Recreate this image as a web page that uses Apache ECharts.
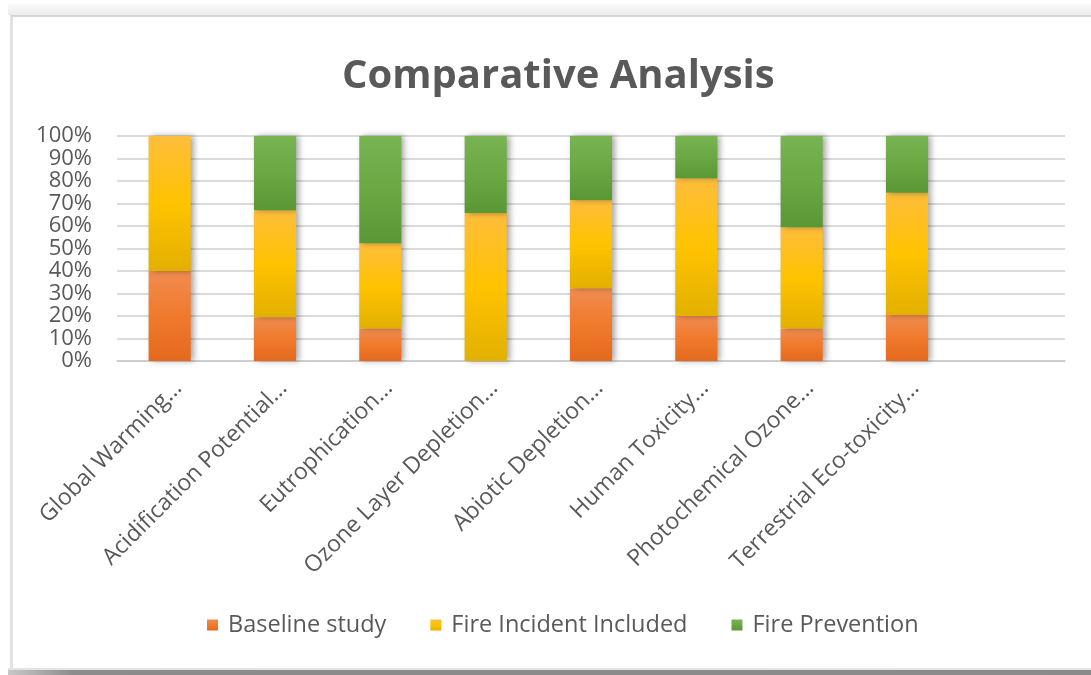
<!DOCTYPE html>
<html>
<head>
<meta charset="UTF-8">
<script src="https://cdn.jsdelivr.net/npm/echarts@6/dist/echarts.min.js"></script>
<style>
  html, body { margin: 0; padding: 0; background: #fff; }
  #wrap { position: relative; width: 1091px; height: 675px; overflow: hidden; }
  .band-top { position: absolute; left: 8px; right: 0; top: 4px; height: 11px;
    background: linear-gradient(#fafafa, #ececec); }
  .frame { position: absolute; left: 10px; right: -4px; top: 15px; height: 652px;
    border-left: 3px solid #e2e2e2; border-top: 2px solid #d6d6d6; background: #fff; }
  .band-bot { position: absolute; left: 8px; right: 0; top: 668px; height: 2px; background: #e4e4e4; }
  .band-dark { position: absolute; left: 8px; right: 0; top: 670px; height: 5px;
    background: linear-gradient(to right, #c8c8c8, #8c8c8c 6%, #8a8a8a); }
  #main { position: absolute; left: 0; top: 0; width: 1091px; height: 675px; }
</style>
</head>
<body>
<div id="wrap">
  <div class="band-top"></div>
  <div class="frame"></div>
  <div class="band-bot"></div>
  <div class="band-dark"></div>
  <div id="main"></div>
</div>
<script>
  // categories (last slot is an empty one, as in the original sheet)
  var categories = ['Global Warming...', 'Acidification Potential...', 'Eutrophication...',
    'Ozone Layer Depletion...', 'Abiotic Depletion...', 'Human Toxicity...',
    'Photochemical Ozone...', 'Terrestrial Eco-toxicity...', ''];
  // shares in %
  var baseline   = [40, 19.5, 14.5, 0, 32.3, 20, 14.5, 20.5];
  var fireIncid  = [60, 47.5, 37.8, 65.8, 39.3, 61.2, 45, 54.3];
  var firePrev   = [0, 33, 47.7, 34.2, 28.4, 18.8, 40.5, 25.2];
  var yTicks = [0, 10, 20, 30, 40, 50, 60, 70, 80, 90, 100];

  var font = 'Open Sans';
  var textColor = '#595959';

  function grad(top, mid, bottom) {
    return new echarts.graphic.LinearGradient(0, 0, 0, 1, [
      { offset: 0, color: top },
      { offset: 0.5, color: mid },
      { offset: 1, color: bottom }
    ]);
  }

  function barSeries(name, data, legendColor, fill) {
    return {
      name: name,
      type: 'bar',
      stack: 'total',
      barWidth: '40%',
      data: data,
      color: legendColor,
      itemStyle: {
        color: fill,
        shadowColor: 'rgba(0,0,0,0.35)',
        shadowBlur: 6,
        shadowOffsetX: 3,
        shadowOffsetY: 0
      }
    };
  }

  var myChart = echarts.init(document.getElementById('main'), null, { renderer: 'canvas' });

  myChart.setOption({
    backgroundColor: 'transparent',
    animation: false,
    title: {
      text: 'Comparative Analysis',
      left: 337,
      top: 52,
      textStyle: { fontFamily: font, fontSize: 40, fontWeight: 'bold', color: textColor }
    },
    legend: {
      bottom: 33,
      left: 202,
      icon: 'rect',
      itemWidth: 11,
      itemHeight: 11,
      itemGap: 44,
      textStyle: { fontFamily: font, fontSize: 23.5, color: textColor, padding: [0, 0, 0, 5] },
      data: ['Baseline study', 'Fire Incident Included', 'Fire Prevention']
    },
    grid: { left: 117, right: 26, top: 136, bottom: 314 },
    xAxis: {
      type: 'category',
      data: categories,
      axisTick: { show: false },
      axisLine: { lineStyle: { color: '#cccccc', width: 1.5 } },
      axisLabel: {
        interval: 0,
        rotate: 45,
        margin: 15,
        verticalAlign: 'top',
        lineHeight: 24,
        fontFamily: font,
        fontSize: 23,
        color: textColor
      }
    },
    yAxis: {
      type: 'value',
      min: yTicks[0],
      max: yTicks[yTicks.length - 1],
      interval: 10,
      axisLine: { show: false },
      axisTick: { show: false },
      splitLine: { lineStyle: { color: '#cfcfcf', width: 1.5 } },
      axisLabel: {
        margin: 25,
        showMinLabel: true,
        showMaxLabel: true,
        hideOverlap: false,
        lineHeight: 20,
        formatter: '{value}%',
        fontFamily: font,
        fontSize: 22,
        color: textColor
      }
    },
    series: [
      barSeries('Baseline study', baseline, '#ED7D31', grad('#f08c50', '#f07a2c', '#e4691c')),
      barSeries('Fire Incident Included', fireIncid, '#FFC000', grad('#fdbd3c', '#ffc300', '#e2b000')),
      barSeries('Fire Prevention', firePrev, '#70AD47', grad('#78b452', '#6aa843', '#599835'))
    ]
  });
</script>
</body>
</html>
